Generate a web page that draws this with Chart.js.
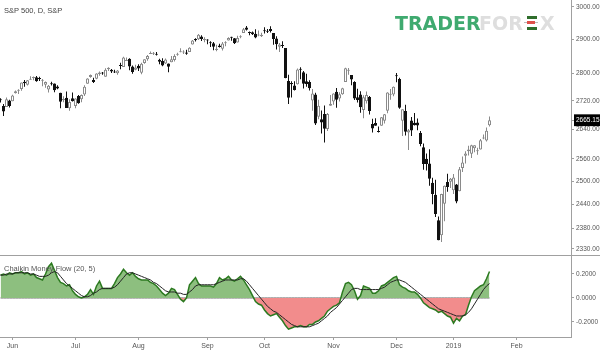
<!DOCTYPE html>
<html>
<head>
<meta charset="utf-8">
<script src="https://cdn.jsdelivr.net/npm/chart.js@4.4.0/dist/chart.umd.min.js"></script>
<style>
  body { margin:0; background:#fff; width:600px; height:354px; overflow:hidden; position:relative; font-family:"Liberation Sans", Arial, sans-serif; }
  #prezzo { position:absolute; left:0; top:0; }
  #cmf { position:absolute; left:0; top:255px; }
  .separatore { position:absolute; left:0; top:255px; width:600px; height:1px; background:#a0a0a0; }
  .titolo { position:absolute; left:4px; top:6px; font-size:7.5px; color:#444; }
  .titoloCmf { position:absolute; left:4px; top:264px; font-size:7.5px; color:#555; }
  .logo { position:absolute; font-family:"DejaVu Sans", sans-serif; font-weight:bold; font-size:19px; line-height:19px; top:14px; }
  .verde { color:#3faa6f; }
  .grigio { color:#dedede; }
  .barra { position:absolute; height:3px; }
</style>
</head>
<body>
<canvas id="prezzo" width="600" height="255"></canvas>
<canvas id="cmf" width="600" height="99"></canvas>
<div class="separatore"></div>
<div class="titolo">S&amp;P 500, D, S&amp;P</div>
<div class="titoloCmf">Chaikin Money Flow (20, 5)</div>
<div class="logo verde" style="left:395px">TRADER</div>
<div class="logo grigio" style="left:479px">FOR</div>
<div class="barra" style="left:527px;top:16px;width:10px;background:#2f6e2c"></div>
<div class="barra" style="left:524px;top:22px;width:14px;height:1px;background:#bbb"></div>
<div class="barra" style="left:527px;top:21px;width:8px;background:#e0504a"></div>
<div class="barra" style="left:527px;top:27px;width:10px;background:#2f6e2c"></div>
<div class="logo grigio" style="left:540px">X</div>
<script>
// giorni di borsa (asse x = indice del giorno)
var giorni = [
  '2018-05-25','2018-05-29','2018-05-30','2018-05-31',
  '2018-06-01','2018-06-04','2018-06-05','2018-06-06','2018-06-07','2018-06-08','2018-06-11','2018-06-12','2018-06-13','2018-06-14','2018-06-15','2018-06-18','2018-06-19','2018-06-20','2018-06-21','2018-06-22','2018-06-25','2018-06-26','2018-06-27','2018-06-28','2018-06-29',
  '2018-07-02','2018-07-03','2018-07-05','2018-07-06','2018-07-09','2018-07-10','2018-07-11','2018-07-12','2018-07-13','2018-07-16','2018-07-17','2018-07-18','2018-07-19','2018-07-20','2018-07-23','2018-07-24','2018-07-25','2018-07-26','2018-07-27','2018-07-30','2018-07-31',
  '2018-08-01','2018-08-02','2018-08-03','2018-08-06','2018-08-07','2018-08-08','2018-08-09','2018-08-10','2018-08-13','2018-08-14','2018-08-15','2018-08-16','2018-08-17','2018-08-20','2018-08-21','2018-08-22','2018-08-23','2018-08-24','2018-08-27','2018-08-28','2018-08-29','2018-08-30','2018-08-31',
  '2018-09-04','2018-09-05','2018-09-06','2018-09-07','2018-09-10','2018-09-11','2018-09-12','2018-09-13','2018-09-14','2018-09-17','2018-09-18','2018-09-19','2018-09-20','2018-09-21','2018-09-24','2018-09-25','2018-09-26','2018-09-27','2018-09-28',
  '2018-10-01','2018-10-02','2018-10-03','2018-10-04','2018-10-05','2018-10-08','2018-10-09','2018-10-10','2018-10-11','2018-10-12','2018-10-15','2018-10-16','2018-10-17','2018-10-18','2018-10-19','2018-10-22','2018-10-23','2018-10-24','2018-10-25','2018-10-26','2018-10-29','2018-10-30','2018-10-31',
  '2018-11-01','2018-11-02','2018-11-05','2018-11-06','2018-11-07','2018-11-08','2018-11-09','2018-11-12','2018-11-13','2018-11-14','2018-11-15','2018-11-16','2018-11-19','2018-11-20','2018-11-21','2018-11-23','2018-11-26','2018-11-27','2018-11-28','2018-11-29','2018-11-30',
  '2018-12-03','2018-12-04','2018-12-06','2018-12-07','2018-12-10','2018-12-11','2018-12-12','2018-12-13','2018-12-14','2018-12-17','2018-12-18','2018-12-19','2018-12-20','2018-12-21','2018-12-24','2018-12-26','2018-12-27','2018-12-28','2018-12-31',
  '2019-01-02','2019-01-03','2019-01-04','2019-01-07','2019-01-08','2019-01-09','2019-01-10','2019-01-11','2019-01-14','2019-01-15','2019-01-16','2019-01-17','2019-01-18'
];
var aperture = [
  2723.60,2705.11,2702.43,2720.98,
  2718.70,2741.67,2748.46,2753.25,2774.84,2765.84,2780.18,2785.60,2787.94,2783.21,2777.78,2765.79,2752.01,2769.73,2769.28,2760.79,2742.94,2722.12,2728.45,2698.69,2727.13,
  2704.95,2733.27,2724.19,2737.68,2768.51,2788.56,2779.82,2783.14,2796.93,2800.56,2789.34,2811.35,2809.37,2804.55,2799.17,2820.68,2817.73,2835.49,2842.35,2819.00,2809.73,
  2821.17,2800.48,2829.62,2840.29,2855.92,2856.79,2857.19,2838.90,2835.46,2827.88,2827.95,2831.44,2838.32,2853.93,2861.51,2860.99,2860.29,2862.35,2884.69,2901.45,2900.62,2908.94,2898.37,
  2896.96,2891.59,2888.64,2868.26,2881.39,2871.57,2888.29,2896.85,2906.38,2903.83,2890.74,2906.60,2919.73,2936.76,2921.83,2921.75,2916.98,2911.65,2910.03,
  2926.29,2923.80,2931.69,2919.35,2902.54,2877.53,2882.51,2873.90,2776.87,2770.54,2763.83,2767.05,2811.67,2802.00,2775.66,2773.94,2721.03,2737.87,2674.88,2667.86,2682.65,2640.68,2705.60,
  2717.58,2745.45,2726.37,2738.40,2774.13,2806.38,2794.10,2773.93,2730.05,2737.90,2693.52,2718.54,2730.74,2654.60,2657.74,2633.36,2649.97,2663.75,2691.45,2736.97,2737.76,
  2790.50,2782.43,2663.51,2691.26,2630.86,2664.44,2658.23,2658.70,2629.68,2590.75,2559.90,2547.05,2496.77,2465.38,2400.56,2363.12,2442.50,2498.77,2498.94,
  2476.96,2491.92,2474.33,2535.61,2568.11,2580.00,2573.51,2588.11,2580.31,2585.10,2614.75,2609.28,2651.27
];
var massimi = [
  2727.36,2710.67,2729.34,2722.50,
  2736.93,2749.16,2752.61,2772.39,2779.90,2779.39,2790.21,2789.80,2791.47,2789.06,2782.81,2774.99,2765.05,2774.86,2769.28,2764.17,2742.94,2732.91,2746.09,2724.34,2743.26,
  2727.26,2736.58,2737.83,2764.41,2784.65,2795.58,2785.91,2799.22,2804.53,2803.07,2814.19,2816.76,2812.05,2809.70,2808.61,2829.99,2848.03,2845.57,2843.17,2821.74,2824.46,
  2825.83,2829.91,2840.38,2853.29,2863.43,2862.44,2862.48,2842.20,2843.40,2843.11,2827.95,2850.49,2855.63,2859.76,2873.23,2867.54,2868.78,2876.16,2898.25,2903.77,2916.50,2912.46,2906.32,
  2900.18,2894.21,2892.05,2883.81,2886.93,2892.52,2894.65,2906.76,2908.30,2904.65,2911.17,2912.36,2934.80,2940.91,2923.79,2923.95,2931.15,2927.22,2920.53,
  2937.06,2931.42,2939.86,2919.78,2909.64,2889.45,2894.83,2874.02,2795.14,2775.77,2775.99,2813.46,2816.94,2806.04,2797.77,2778.94,2753.59,2742.59,2722.70,2692.38,2706.85,2685.43,2736.69,
  2741.67,2756.55,2744.27,2756.82,2815.15,2814.75,2794.10,2775.99,2754.60,2746.80,2735.38,2746.75,2733.16,2669.44,2670.73,2647.55,2674.35,2682.53,2744.00,2753.75,2760.88,
  2800.18,2785.93,2696.15,2708.54,2640.99,2674.35,2685.44,2670.19,2635.07,2601.13,2573.99,2585.29,2509.63,2504.41,2410.34,2467.76,2489.10,2520.27,2509.24,
  2519.49,2493.14,2538.07,2566.16,2579.82,2595.32,2597.82,2596.27,2589.32,2613.08,2625.76,2645.06,2675.47
];
var minimi = [
  2714.99,2676.81,2702.43,2700.68,
  2718.70,2740.54,2739.51,2748.46,2760.16,2763.59,2780.17,2778.78,2774.65,2776.52,2761.73,2757.12,2743.19,2763.91,2744.39,2752.68,2698.67,2715.60,2699.38,2691.99,2718.03,
  2698.95,2711.16,2716.02,2733.52,2768.51,2786.24,2770.77,2781.53,2791.69,2794.98,2789.24,2805.89,2799.77,2800.01,2795.14,2811.12,2817.73,2835.26,2808.34,2798.11,2808.06,
  2805.85,2796.34,2827.37,2835.98,2855.92,2853.09,2851.98,2825.81,2819.88,2826.58,2802.49,2831.44,2833.73,2850.62,2861.32,2856.05,2854.03,2862.35,2884.69,2893.50,2898.40,2895.22,2891.73,
  2885.13,2876.92,2867.29,2864.12,2875.94,2866.78,2879.20,2896.39,2895.77,2886.16,2890.43,2903.82,2919.73,2927.11,2912.63,2913.70,2903.28,2909.27,2907.50,
  2917.91,2919.37,2921.36,2883.92,2869.29,2862.08,2874.27,2784.86,2710.51,2729.44,2749.03,2766.91,2781.81,2755.18,2760.27,2749.22,2691.43,2651.89,2667.84,2628.16,2603.54,2635.34,2705.60,
  2708.85,2700.44,2717.94,2737.08,2774.13,2794.99,2764.24,2722.00,2714.98,2685.75,2670.75,2712.16,2681.09,2631.52,2649.82,2631.09,2649.97,2655.89,2684.38,2722.94,2732.76,
  2773.38,2697.18,2621.53,2623.14,2583.23,2621.30,2650.26,2637.27,2593.84,2530.54,2528.71,2488.96,2441.18,2408.55,2351.10,2346.58,2397.94,2472.89,2482.82,
  2467.47,2443.96,2474.33,2524.56,2547.56,2568.89,2562.02,2577.40,2570.41,2585.10,2612.68,2606.36,2647.58
];
var chiusure = [
  2721.33,2689.86,2724.01,2705.27,
  2734.62,2746.87,2748.80,2772.35,2770.37,2779.03,2782.00,2786.85,2775.63,2782.49,2779.66,2773.75,2762.59,2767.32,2749.76,2754.88,2717.07,2723.06,2699.63,2716.31,2718.37,
  2726.71,2713.22,2736.61,2759.82,2784.17,2793.84,2774.02,2798.29,2801.31,2798.43,2809.55,2815.62,2804.49,2801.83,2806.98,2820.40,2846.07,2837.44,2818.82,2802.60,2816.29,
  2813.36,2827.22,2840.35,2850.40,2858.45,2857.70,2853.58,2833.28,2821.93,2839.96,2818.37,2840.69,2850.13,2857.05,2862.96,2861.82,2856.98,2874.69,2896.74,2897.52,2914.04,2901.13,2901.52,
  2896.72,2888.60,2878.05,2871.68,2877.13,2887.89,2888.92,2904.18,2904.98,2888.80,2904.31,2907.95,2930.75,2929.67,2919.37,2915.56,2905.97,2914.00,2913.98,
  2924.59,2923.43,2925.51,2901.61,2885.57,2884.43,2880.34,2785.68,2728.37,2767.13,2750.79,2809.92,2809.21,2768.78,2767.78,2755.88,2740.69,2656.10,2705.57,2658.69,2641.25,2682.63,2711.74,
  2740.37,2723.06,2738.31,2755.45,2813.89,2806.83,2781.01,2726.22,2722.18,2701.58,2730.20,2736.27,2690.73,2641.89,2649.93,2632.56,2673.45,2682.17,2743.79,2737.80,2760.17,
  2790.37,2700.06,2695.95,2633.08,2637.72,2636.78,2651.07,2650.54,2599.95,2545.94,2546.16,2506.96,2467.42,2416.62,2351.10,2467.70,2488.83,2485.74,2506.85,
  2510.03,2447.89,2531.94,2549.69,2574.41,2584.96,2596.64,2596.26,2582.61,2610.30,2616.10,2635.96,2665.15
];
// Chaikin Money Flow e linea di segnale
var cmf = [
  0.19,0.20,0.19,0.21,0.20,0.21,0.21,0.22,0.20,0.21,
  0.19,0.20,0.17,0.16,0.15,0.20,0.26,0.29,0.23,0.17,
  0.13,0.12,0.10,0.11,0.06,0.03,0.01,0.00,0.01,0.03,
  0.07,0.03,0.10,0.14,0.08,0.08,0.08,0.08,0.12,0.17,
  0.20,0.24,0.21,0.19,0.21,0.18,0.16,0.15,0.15,0.15,
  0.13,0.12,0.10,0.07,0.04,0.02,0.04,0.08,0.07,0.03,
  -0.01,-0.03,0.00,0.11,0.14,0.17,0.12,0.10,0.10,0.10,
  0.10,0.09,0.12,0.17,0.15,0.16,0.18,0.15,0.14,0.16,
  0.18,0.15,0.11,0.07,0.02,-0.03,-0.05,-0.06,-0.10,-0.13,
  -0.15,-0.14,-0.13,-0.16,-0.19,-0.23,-0.26,-0.25,-0.24,-0.24,
  -0.23,-0.24,-0.24,-0.22,-0.22,-0.20,-0.19,-0.17,-0.15,-0.11,
  -0.09,-0.07,-0.06,-0.04,0.05,0.12,0.13,0.11,0.06,-0.01,
  0.02,0.10,0.09,0.08,0.04,0.04,0.06,0.10,0.11,0.13,
  0.15,0.17,0.18,0.11,0.09,0.08,0.06,0.05,0.05,0.03,
  0.00,-0.04,-0.06,-0.08,-0.09,-0.10,-0.12,-0.11,-0.13,-0.15,
  -0.16,-0.21,-0.17,-0.19,-0.15,-0.14,-0.06,0.01,0.06,0.08,
  0.10,0.11,0.16,0.22
];
var segnale = [
  0.19,0.19,0.20,0.20,0.20,0.21,0.21,
  0.21,0.21,0.21,0.20,0.20,0.19,0.18,
  0.18,0.18,0.19,0.21,0.22,0.21,0.18,
  0.15,0.12,0.10,0.08,0.06,0.04,0.02,
  0.01,0.01,0.02,0.04,0.05,0.07,0.08,
  0.08,0.08,0.08,0.09,0.11,0.14,0.17,
  0.20,0.21,0.21,0.20,0.19,0.18,0.17,
  0.16,0.15,0.13,0.12,0.10,0.08,0.06,
  0.05,0.05,0.05,0.04,0.04,0.03,0.03,
  0.05,0.07,0.10,0.11,0.11,0.11,0.11,
  0.11,0.11,0.12,0.13,0.14,0.15,0.15,
  0.15,0.15,0.15,0.16,0.16,0.14,0.11,
  0.08,0.05,0.02,-0.01,-0.04,-0.07,-0.09,
  -0.11,-0.12,-0.14,-0.16,-0.18,-0.20,-0.22,
  -0.23,-0.24,-0.24,-0.24,-0.24,-0.24,-0.23,
  -0.22,-0.21,-0.19,-0.17,-0.15,-0.12,-0.10,
  -0.08,-0.05,-0.02,0.01,0.04,0.07,0.08,
  0.08,0.07,0.07,0.07,0.07,0.07,0.07,
  0.07,0.08,0.09,0.11,0.13,0.14,0.15,
  0.15,0.14,0.13,0.11,0.09,0.07,0.05,
  0.03,0.01,-0.01,-0.03,-0.05,-0.07,-0.09,
  -0.10,-0.11,-0.12,-0.13,-0.14,-0.15,-0.15,
  -0.15,-0.14,-0.12,-0.09,-0.05,-0.01,0.03,
  0.07,0.10,0.12
];
var tickPrezzo = [3000, 2900, 2800, 2720, 2640, 2560, 2500, 2440, 2380, 2330];
var ultimoPrezzo = 2665.15;
var tickCmf = [0.2, 0, -0.2];
var tickMesi = [4, 25, 46, 69, 88, 111, 132, 151, 172];
var nomiMesi = ['Jun', 'Jul', 'Aug', 'Sep', 'Oct', 'Nov', 'Dec', '2019', 'Feb'];

var xMin = -1/6, xMax = 190 + 1/6;
var fontAssi = { family: 'Liberation Sans', size: 6.5 };

function rialzo(i) { return chiusure[i] >= aperture[i]; }

function disegnaPrezzo()
{
  var corpi = giorni.map(function(g, i) { return { x: i, y: [aperture[i], chiusure[i]] }; });
  var stoppini = giorni.map(function(g, i) { return { x: i, y: [minimi[i], massimi[i]] }; });
  new Chart(document.getElementById('prezzo'), {
    type: 'bar',
    data: {
      datasets: [
        {
          data: corpi,
          barThickness: 3,
          borderWidth: 1,
          borderSkipped: false,
          inflateAmount: 0,
          minBarLength: 1,
          grouped: false,
          backgroundColor: giorni.map(function(g, i) { return rialzo(i) ? '#ffffff' : '#111111'; }),
          borderColor: giorni.map(function(g, i) { return rialzo(i) ? '#8a8a8a' : '#111111'; })
        },
        {
          data: stoppini,
          barThickness: 1,
          borderWidth: 0,
          inflateAmount: 0,
          grouped: false,
          backgroundColor: giorni.map(function(g, i) { return rialzo(i) ? '#8a8a8a' : '#111111'; })
        }
      ]
    },
    options: {
      responsive: false, animation: false, devicePixelRatio: 1,
      layout: { padding: 0 },
      plugins: { legend: { display: false }, tooltip: { enabled: false } },
      scales: {
        x: { type: 'linear', display: false, min: xMin, max: xMax, offset: false },
        y: {
          type: 'logarithmic', position: 'right', min: 2315, max: 3022,
          afterBuildTicks: function(s) { s.ticks = tickPrezzo.concat([ultimoPrezzo]).map(function(v) { return { value: v }; }); },
          afterFit: function(s) { s.width = 29; s.paddingTop = 0; s.paddingBottom = 0; },
          grid: { drawOnChartArea: false, tickLength: 3, color: '#a0a0a0' },
          border: { color: '#a0a0a0' },
          ticks: {
            autoSkip: false, padding: 2, font: fontAssi,
            color: function(ctx) { return ctx.tick && ctx.tick.value === ultimoPrezzo ? '#ffffff' : '#555555'; },
            showLabelBackdrop: function(ctx) { return ctx.tick && ctx.tick.value === ultimoPrezzo; },
            backdropColor: '#000000',
            backdropPadding: { x: 2, y: 2 },
            callback: function(v) { return Number(v).toFixed(2); }
          }
        }
      }
    }
  });
}

function disegnaCmf()
{
  new Chart(document.getElementById('cmf'), {
    type: 'line',
    data: {
      datasets: [
        {
          data: segnale.map(function(v, i) { return { x: i, y: v }; }),
          borderColor: '#222222', borderWidth: 1, pointRadius: 0, fill: false, tension: 0
        },
        {
          data: cmf.map(function(v, i) { return { x: i, y: v }; }),
          borderColor: '#2c7a20', borderWidth: 1.5, pointRadius: 0, tension: 0,
          fill: { target: { value: 0 }, above: '#8dbf7f', below: '#f28c8c' }
        },
        {
          data: giorni.map(function(g, i) { return { x: i, y: 0 }; }),
          borderColor: '#666666', borderWidth: 1, pointRadius: 0, fill: false
        }
      ]
    },
    options: {
      responsive: false, animation: false, devicePixelRatio: 1,
      layout: { padding: 0 },
      plugins: { legend: { display: false }, tooltip: { enabled: false } },
      scales: {
        x: {
          type: 'linear', min: xMin, max: xMax, offset: false,
          afterBuildTicks: function(s) { s.ticks = tickMesi.map(function(v) { return { value: v }; }); },
          afterFit: function(s) { s.height = 17; s.paddingLeft = 0; s.paddingRight = 0; },
          grid: { drawOnChartArea: false, tickLength: 3, color: '#a0a0a0' },
          border: { color: '#a0a0a0' },
          ticks: { autoSkip: false, maxRotation: 0, minRotation: 0, padding: 2, font: { family: 'Liberation Sans', size: 7 }, color: '#555555',
            callback: function(v, i) { return nomiMesi[i]; } }
        },
        y: {
          type: 'linear', position: 'right', min: -0.325, max: 0.358,
          afterBuildTicks: function(s) { s.ticks = tickCmf.map(function(v) { return { value: v }; }); },
          afterFit: function(s) { s.width = 29; s.paddingTop = 0; s.paddingBottom = 0; },
          grid: { drawOnChartArea: false, tickLength: 3, color: '#a0a0a0' },
          border: { color: '#a0a0a0' },
          ticks: { autoSkip: false, padding: 2, font: fontAssi, color: '#555555',
            callback: function(v) { return Number(v).toFixed(4); } }
        }
      }
    }
  });
}

disegnaPrezzo();
disegnaCmf();
</script>
</body>
</html>
